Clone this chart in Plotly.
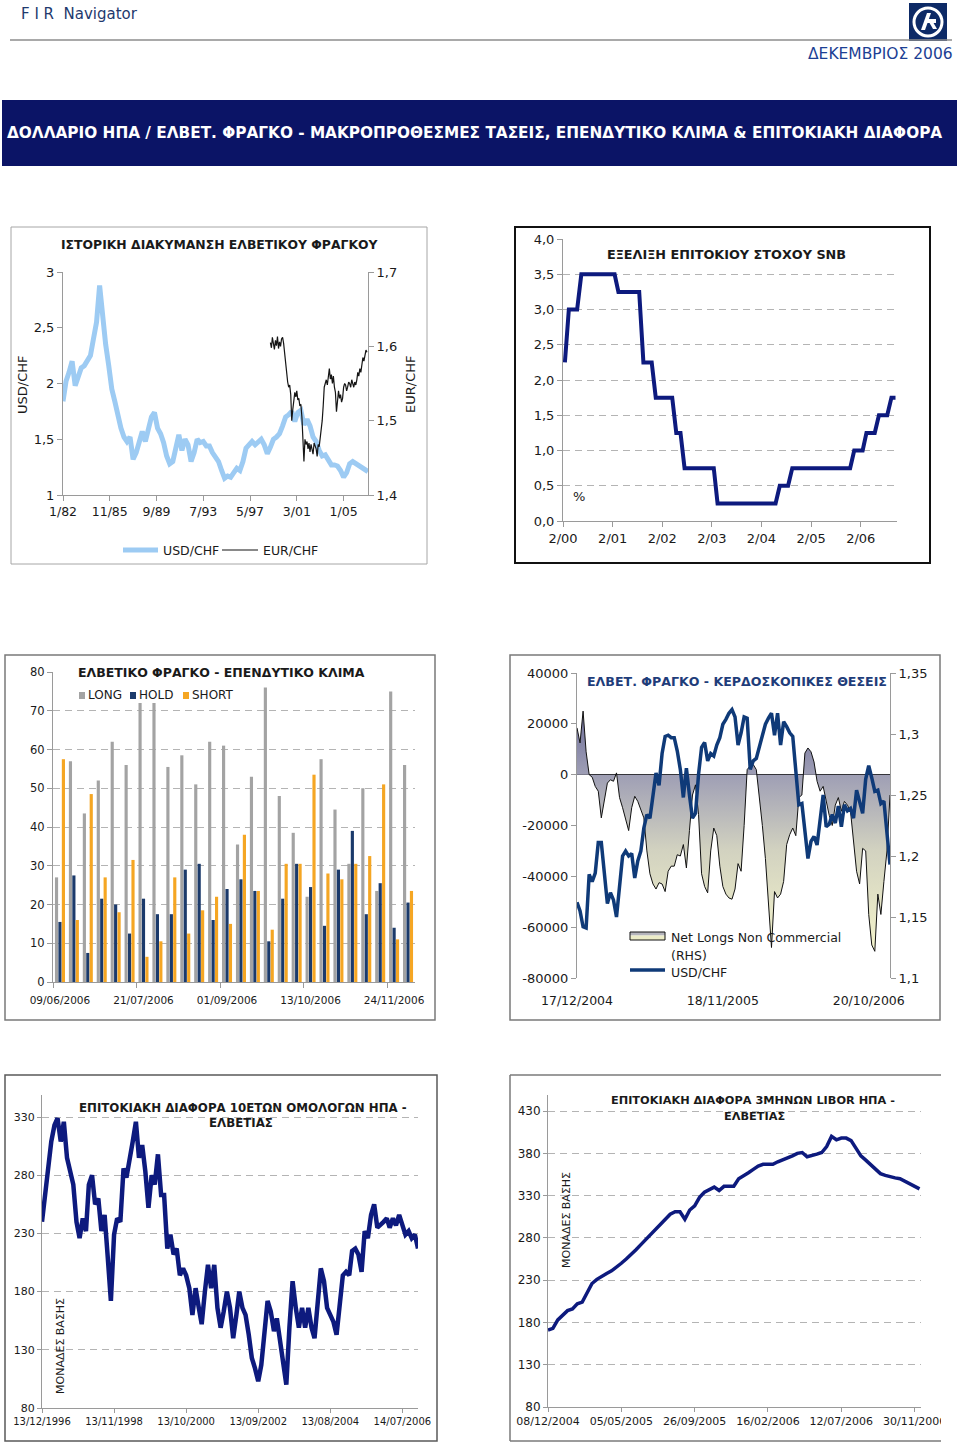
import plotly.graph_objects as go
import pandas as pd

W, H = 960, 1451


def fx(p):
    return p / W


def fy(p):
    return 1 - p / H


FONT = "DejaVu Sans"
TXT = "#1a1a1a"
AXC = "#9a9a9a"
GRID = "#b4b4b4"
NAVY = "#0d1a7e"

# ---------------- Panel 1: historical CHF ----------------
P1_START = "1982-01-01"
USDCHF_HIST = [1.84, 2.02, 2.10, 2.20, 1.98, 2.08, 2.14, 2.16, 2.20, 2.25,
               2.40, 2.55, 2.88, 2.60, 2.35, 2.16, 1.95, 1.84, 1.70, 1.60,
               1.52, 1.48, 1.52, 1.32, 1.38, 1.50, 1.57, 1.48, 1.58, 1.70,
               1.74, 1.60, 1.55, 1.47, 1.35, 1.28, 1.30, 1.45, 1.54, 1.40,
               1.50, 1.45, 1.30, 1.38, 1.50, 1.47, 1.48, 1.44, 1.44, 1.38,
               1.33, 1.30, 1.22, 1.15, 1.17, 1.16, 1.20, 1.24, 1.22, 1.30,
               1.42, 1.45, 1.48, 1.45, 1.47, 1.50, 1.45, 1.37, 1.43, 1.50,
               1.52, 1.55, 1.62, 1.70, 1.72, 1.75, 1.66, 1.74, 1.76, 1.63,
               1.68, 1.62, 1.52, 1.48, 1.40, 1.35, 1.36, 1.32, 1.27, 1.27,
               1.26, 1.22, 1.16, 1.20, 1.28, 1.30, 1.28, 1.26, 1.25, 1.22,
               1.21]
EUR_START = "1999-01-01"
EURCHF_HIST = [1.605, 1.598, 1.612, 1.600, 1.596, 1.608, 1.601, 1.613, 1.597, 1.606, 1.600, 1.610,
               1.612, 1.604, 1.590, 1.575, 1.560, 1.552, 1.545, 1.548, 1.535, 1.500, 1.515, 1.530,
               1.538, 1.532, 1.540, 1.528, 1.530, 1.520, 1.522, 1.505, 1.470, 1.445, 1.475, 1.468,
               1.472, 1.462, 1.470, 1.458, 1.468, 1.460, 1.455, 1.470, 1.465, 1.462, 1.452, 1.468,
               1.465, 1.475, 1.485, 1.500, 1.520, 1.545, 1.550, 1.555, 1.548, 1.560, 1.570, 1.556,
               1.562, 1.550, 1.560, 1.545, 1.538, 1.512, 1.525, 1.540, 1.530, 1.535, 1.525, 1.530,
               1.545, 1.550, 1.548, 1.540, 1.545, 1.552, 1.550, 1.545, 1.555, 1.550, 1.545, 1.552,
               1.548, 1.555, 1.565, 1.560, 1.570, 1.565, 1.575, 1.585, 1.580, 1.590, 1.595, 1.592]
P1_TICKVALS = ["1982-01-01", "1985-11-01", "1989-09-01", "1993-07-01", "1997-05-01", "2001-03-01", "2005-01-01"]
P1_TICKTEXT = ["1/82", "11/85", "9/89", "7/93", "5/97", "3/01", "1/05"]
P1_Y = [1, 1.5, 2, 2.5, 3]
P1_YTXT = ["1", "1,5", "2", "2,5", "3"]
P1_Y2 = [1.4, 1.5, 1.6, 1.7]
P1_Y2TXT = ["1,4", "1,5", "1,6", "1,7"]

# ---------------- Panel 2: SNB target ----------------
SNB_START = "2000-02-15"
SNB_RATE = [2.25, 3.0, 3.0, 3.0,
            3.5, 3.5, 3.5, 3.5, 3.5, 3.5, 3.5, 3.5, 3.5,
            3.25, 3.25, 3.25, 3.25, 3.25, 3.25,
            2.25, 2.25, 2.25,
            1.75, 1.75, 1.75, 1.75, 1.75,
            1.25, 1.25,
            0.75, 0.75, 0.75, 0.75, 0.75, 0.75, 0.75, 0.75,
            0.25, 0.25, 0.25, 0.25, 0.25, 0.25, 0.25, 0.25, 0.25, 0.25, 0.25, 0.25, 0.25, 0.25, 0.25,
            0.5, 0.5, 0.5,
            0.75, 0.75, 0.75, 0.75, 0.75, 0.75, 0.75, 0.75, 0.75, 0.75, 0.75, 0.75, 0.75, 0.75, 0.75,
            1.0, 1.0, 1.0,
            1.25, 1.25, 1.25,
            1.5, 1.5, 1.5,
            1.75, 1.75]
P2_TICKVALS = ["2000-02-01", "2001-02-01", "2002-02-01", "2003-02-01", "2004-02-01", "2005-02-01", "2006-02-01"]
P2_TICKTEXT = ["2/00", "2/01", "2/02", "2/03", "2/04", "2/05", "2/06"]
P2_Y = [0, 0.5, 1, 1.5, 2, 2.5, 3, 3.5, 4]
P2_YTXT = ["0,0", "0,5", "1,0", "1,5", "2,0", "2,5", "3,0", "3,5", "4,0"]

# ---------------- Panel 3: sentiment bars ----------------
SENT_START = "2006-06-09"
LONG = [27, 57, 43.5, 52, 62, 56, 72, 72, 55.5, 58.5, 51, 62, 61, 35.5, 53, 76, 48, 38.5, 22, 57.5, 44.5, 30.5, 50, 23.5, 75, 56]
HOLD = [15.5, 27.5, 7.5, 21.5, 20, 12.5, 21.5, 17.5, 17.5, 29, 30.5, 16, 24, 26.5, 23.5, 10.5, 21.5, 30.5, 24.5, 14.5, 29, 39, 17.5, 25.5, 14, 20.5]
SHORT = [57.5, 16, 48.5, 27, 18, 31.5, 6.5, 10.5, 27, 12.5, 18.5, 22, 15, 38, 23.5, 13.5, 30.5, 30.5, 53.5, 28, 26.5, 30.5, 32.5, 51, 11, 23.5]
P3_Y = [0, 10, 20, 30, 40, 50, 60, 70, 80]

# ---------------- Panel 4: speculative positions ----------------
POS_START = "2004-12-17"
NET_LONGS = [18400, 12500, 25000, 9000, 0, -1000, -4600, -6500, -17000, -10500,
             -3300, -2000, -2600, 700, -9000, -13000, -18000, -22000, -13000, -8500,
             -10500, -14000, -17000, -30000, -39000, -43000, -45000, -42500, -43000, -46000,
             -38000, -36000, -36000, -31500, -32000, -27500, -36700, -22000, -8000, -4000,
             -15700, -39000, -44000, -46500, -30000, -21000, -24000, -36000, -44000, -47000,
             -48500, -49000, -45000, -35000, -38000, -20000, 2000, 3500, 4000, 2000,
             -8000, -20000, -33000, -51000, -68000, -46000, -48500, -47000, -42000, -27500,
             -23600, -21000, -24000, -9000, -8000, 8500, 10500, 9000, 5000, -2600,
             -6500, -4600, -10000, -16000, -20000, -12000, -9000, -14400, -10500, -12000,
             -14400, -27500, -38000, -43000, -29000, -30000, -55000, -67000, -69500, -47000,
             -55000, -42000, -30000, -8000]
USDCHF_W = [1.162, 1.155, 1.142, 1.141, 1.185, 1.179, 1.186, 1.211, 1.211, 1.187,
            1.161, 1.170, 1.164, 1.150, 1.174, 1.200, 1.204, 1.200, 1.202, 1.182,
            1.196, 1.204, 1.223, 1.234, 1.231, 1.250, 1.268, 1.258, 1.284, 1.298,
            1.299, 1.297, 1.297, 1.286, 1.271, 1.248, 1.272, 1.250, 1.231, 1.235,
            1.267, 1.289, 1.293, 1.278, 1.284, 1.282, 1.291, 1.297, 1.308, 1.312,
            1.317, 1.320, 1.314, 1.291, 1.301, 1.314, 1.313, 1.271, 1.278, 1.280,
            1.289, 1.298, 1.308, 1.313, 1.317, 1.299, 1.317, 1.291, 1.310, 1.306,
            1.301, 1.298, 1.272, 1.242, 1.243, 1.217, 1.198, 1.212, 1.216, 1.209,
            1.231, 1.250, 1.224, 1.226, 1.234, 1.227, 1.241, 1.224, 1.242, 1.237,
            1.239, 1.231, 1.254, 1.245, 1.235, 1.263, 1.274, 1.264, 1.253, 1.254,
            1.243, 1.245, 1.220, 1.193]
P4_TICKVALS = ["2004-12-17", "2005-11-18", "2006-10-20"]
P4_TICKTEXT = ["17/12/2004", "18/11/2005", "20/10/2006"]
P4_Y = [-80000, -60000, -40000, -20000, 0, 20000, 40000]
P4_YTXT = ["-80000", "-60000", "-40000", "-20000", "0", "20000", "40000"]
P4_Y2 = [1.1, 1.15, 1.2, 1.25, 1.3, 1.35]
P4_Y2TXT = ["1,1", "1,15", "1,2", "1,25", "1,3", "1,35"]

# ---------------- Panel 5: 10y spread ----------------
SPREAD10_START = "1996-12-13"
SPREAD10 = [240, 263, 286, 309, 323, 329, 309, 326, 295, 283,
            272, 240, 226, 243, 232, 272, 280, 255, 260, 232,
            246, 209, 172, 229, 243, 240, 286, 278, 292, 309,
            326, 295, 306, 283, 252, 280, 272, 298, 263, 263,
            217, 229, 212, 217, 194, 200, 194, 183, 160, 183,
            166, 152, 180, 203, 183, 203, 166, 149, 163, 180,
            166, 140, 160, 180, 166, 160, 143, 123, 114, 103,
            117, 149, 172, 163, 146, 157, 137, 117, 100, 149,
            189, 166, 149, 166, 149, 166, 149, 140, 166, 200,
            189, 166, 160, 154, 143, 166, 194, 197, 194, 215,
            217, 212, 197, 232, 226, 246, 255, 235, 237, 240,
            243, 235, 243, 237, 246, 237, 229, 232, 226, 229,
            217]
P5_TICKVALS = ["1996-12-13", "1998-11-13", "2000-10-13", "2002-09-13", "2004-08-13", "2006-07-14"]
P5_TICKTEXT = ["13/12/1996", "13/11/1998", "13/10/2000", "13/09/2002", "13/08/2004", "14/07/2006"]
P5_Y = [80, 130, 180, 230, 280, 330]

# ---------------- Panel 6: 3m LIBOR spread ----------------
LIBOR_SPREAD = [171, 173, 183, 188, 194, 196, 202, 204, 214, 226,
                231, 235, 238, 241, 245, 250, 255, 260, 266, 272,
                278, 285, 290, 297, 303, 308, 311, 311, 302, 313,
                318, 328, 334, 337, 340, 336, 341, 341, 341, 350,
                353, 357, 361, 365, 367, 367, 367, 370, 372, 374,
                377, 380, 381, 376, 377, 379, 381, 388, 400, 396,
                398, 398, 395, 385, 377, 372, 367, 362, 356, 354,
                352, 351, 350, 347, 344, 341, 338]
P6_TICKPOS = [0, 15, 30, 45, 60, 75]
P6_TICKTEXT = ["08/12/2004", "05/05/2005", "26/09/2005", "16/02/2006", "12/07/2006", "30/11/2006"]
P6_Y = [80, 130, 180, 230, 280, 330, 380, 430]

# ---------------- derived x values ----------------
usd_dates = pd.date_range(P1_START, periods=len(USDCHF_HIST), freq="3MS")
eur_dates = pd.date_range(EUR_START, periods=len(EURCHF_HIST), freq="MS")
snb_dates = [pd.Timestamp(SNB_START) + pd.DateOffset(months=i) for i in range(len(SNB_RATE))]
sent_x = list(range(len(LONG)))
sent_dates = pd.date_range(SENT_START, periods=len(LONG), freq="7D")
sent_ticks = [i for i in sent_x if i % 6 == 0]
sent_ticktext = [sent_dates[i].strftime("%d/%m/%Y") for i in sent_ticks]
pos_dates = pd.date_range(POS_START, periods=len(NET_LONGS), freq="7D")
sp10_dates = [pd.Timestamp(SPREAD10_START) + pd.DateOffset(months=i) for i in range(len(SPREAD10))]
libor_x = list(range(len(LIBOR_SPREAD)))

fig = go.Figure()

# Panel 1
fig.add_trace(go.Scatter(x=usd_dates, y=USDCHF_HIST, mode="lines", line=dict(color="#9dcbf3", width=5),
                         xaxis="x", yaxis="y", showlegend=False, hoverinfo="skip"))
fig.add_trace(go.Scatter(x=eur_dates, y=EURCHF_HIST, mode="lines", line=dict(color="#151515", width=1.2),
                         xaxis="x", yaxis="y2", showlegend=False, hoverinfo="skip"))
# Panel 2
fig.add_trace(go.Scatter(x=snb_dates, y=SNB_RATE, mode="lines", line=dict(color=NAVY, width=4),
                         xaxis="x2", yaxis="y3", showlegend=False, hoverinfo="skip"))
# Panel 3
for name, vals, col in [("LONG", LONG, "#a3a3a3"), ("HOLD", HOLD, "#1b3a6b"), ("SHORT", SHORT, "#f5a623")]:
    fig.add_trace(go.Bar(x=sent_x, y=vals, name=name, marker=dict(color=col, line=dict(width=0)),
                         xaxis="x3", yaxis="y4", showlegend=False, hoverinfo="skip"))
# Panel 4
fig.add_trace(go.Scatter(x=pos_dates, y=NET_LONGS, mode="lines", fill="tozeroy",
                         line=dict(color="#111111", width=1),
                         fillgradient=dict(type="vertical", start=-72000, stop=22000,
                                           colorscale=[[0, "#f6f6cc"], [0.45, "#d2d2c0"], [0.78, "#9c9cb4"], [1, "#74749c"]]),
                         xaxis="x4", yaxis="y5", showlegend=False, hoverinfo="skip"))
fig.add_trace(go.Scatter(x=pos_dates, y=USDCHF_W, mode="lines", line=dict(color="#0f3a78", width=3.5),
                         xaxis="x4", yaxis="y6", showlegend=False, hoverinfo="skip"))
# Panel 5
fig.add_trace(go.Scatter(x=sp10_dates, y=SPREAD10, mode="lines", line=dict(color=NAVY, width=4.5),
                         xaxis="x5", yaxis="y7", showlegend=False, hoverinfo="skip"))
# Panel 6
fig.add_trace(go.Scatter(x=libor_x, y=LIBOR_SPREAD, mode="lines", line=dict(color=NAVY, width=3.5),
                         xaxis="x6", yaxis="y8", showlegend=False, hoverinfo="skip"))


def ax(**kw):
    d = dict(showgrid=False, zeroline=False, showline=True, linecolor=AXC, linewidth=1,
             ticks="outside", ticklen=5, tickcolor=AXC, tickwidth=1, automargin=False,
             tickfont=dict(family=FONT, size=12, color=TXT), fixedrange=True, tickmode="array")
    d.update(kw)
    return d


DASH = "7px,5px"
CLEAR = "rgba(0,0,0,0)"

layout = dict(
    width=W, height=H, autosize=False, margin=dict(l=0, r=0, t=0, b=0, pad=0, autoexpand=False),
    paper_bgcolor="white", plot_bgcolor="rgba(0,0,0,0)", showlegend=False,
    barmode="group", bargap=0.26, bargroupgap=0.08,
    # panel 1
    xaxis=ax(domain=[fx(63), fx(368)], anchor="y", type="date", range=["1982-01-01", "2007-01-01"],
             tickvals=P1_TICKVALS, ticktext=P1_TICKTEXT, tickfont=dict(family=FONT, size=12.5, color=TXT)),
    yaxis=ax(domain=[fy(495), fy(272)], anchor="x", range=[1, 3], tickvals=P1_Y, ticktext=P1_YTXT,
             tickfont=dict(family=FONT, size=13, color=TXT)),
    yaxis2=ax(overlaying="y", side="right", anchor="x", range=[1.4, 1.7], tickvals=P1_Y2, ticktext=P1_Y2TXT,
              tickfont=dict(family=FONT, size=13, color=TXT)),
    # panel 2
    xaxis2=ax(domain=[fx(563), fx(897)], anchor="y3", type="date", range=["2000-02-01", "2006-10-26"],
              tickvals=P2_TICKVALS, ticktext=P2_TICKTEXT, tickfont=dict(family=FONT, size=13, color=TXT)),
    yaxis3=ax(domain=[fy(521), fy(239)], anchor="x2", range=[0, 4], tickvals=P2_Y, ticktext=P2_YTXT,
              showgrid=True, gridcolor=GRID, griddash=DASH, gridwidth=1,
              tickfont=dict(family=FONT, size=13, color=TXT)),
    # panel 3
    xaxis3=ax(domain=[fx(53), fx(415)], anchor="y4", range=[-0.5, len(LONG) - 0.5],
              tickvals=sent_ticks, ticktext=sent_ticktext, ticks="outside", ticklen=8, tickcolor=CLEAR,
              minor=dict(tickmode="array", tickvals=[t - 0.5 for t in sent_ticks], ticks="outside",
                         ticklen=5, tickcolor=AXC),
              tickfont=dict(family=FONT, size=10.5, color=TXT)),
    yaxis4=ax(domain=[fy(982), fy(672)], anchor="x3", range=[0, 80], tickvals=P3_Y,
              ticktext=[str(v) for v in P3_Y], showgrid=True, gridcolor=GRID, griddash=DASH,
              tickfont=dict(family=FONT, size=11.5, color=TXT)),
    # panel 4
    xaxis4=ax(domain=[fx(577), fx(890)], anchor="y5", type="date",
              range=[pos_dates[0], pos_dates[-1]], tickvals=P4_TICKVALS, ticktext=P4_TICKTEXT,
              showline=False, ticks="outside", ticklen=11, tickcolor=CLEAR,
              tickfont=dict(family=FONT, size=12.5, color=TXT)),
    yaxis5=ax(domain=[fy(978), fy(673)], anchor="x4", range=[-80000, 40000], tickvals=P4_Y, ticktext=P4_YTXT,
              zeroline=True, zerolinecolor="#111111", zerolinewidth=1,
              tickfont=dict(family=FONT, size=13, color=TXT)),
    yaxis6=ax(overlaying="y5", side="right", anchor="x4", range=[1.1, 1.35], tickvals=P4_Y2, ticktext=P4_Y2TXT,
              tickfont=dict(family=FONT, size=13, color=TXT)),
    # panel 5
    xaxis5=ax(domain=[fx(42), fx(418)], anchor="y7", type="date", range=[sp10_dates[0], sp10_dates[-1]],
              tickvals=P5_TICKVALS, ticktext=P5_TICKTEXT, ticklen=4,
              tickfont=dict(family=FONT, size=10, color=TXT)),
    yaxis7=ax(domain=[fy(1408), fy(1095)], anchor="x5", range=[80, 349], tickvals=P5_Y,
              ticktext=[str(v) for v in P5_Y], showgrid=True, gridcolor=GRID, griddash=DASH,
              ticklen=4, tickfont=dict(family=FONT, size=11, color=TXT)),
    # panel 6
    xaxis6=ax(domain=[fx(548), fx(921)], anchor="y8", range=[0, 76.3], tickvals=P6_TICKPOS,
              ticktext=P6_TICKTEXT, ticklen=4, tickfont=dict(family=FONT, size=11, color=TXT)),
    yaxis8=ax(domain=[fy(1407), fy(1095)], anchor="x6", range=[80, 449], tickvals=P6_Y,
              ticktext=[str(v) for v in P6_Y], showgrid=True, gridcolor=GRID, griddash=DASH,
              ticklen=4, tickfont=dict(family=FONT, size=12, color=TXT)),
)
fig.update_layout(**layout)

shapes = []


def rect(x0, y0, x1, y1, line=None, fill=None, lw=1, layer="below"):
    shapes.append(dict(type="rect", xref="paper", yref="paper", x0=fx(x0), x1=fx(x1), y0=fy(y0), y1=fy(y1),
                       line=dict(color=line or CLEAR, width=lw if line else 0),
                       fillcolor=fill or CLEAR, layer=layer))


def hline(x0, x1, y, color, lw, layer="above"):
    shapes.append(dict(type="line", xref="paper", yref="paper", x0=fx(x0), x1=fx(x1), y0=fy(y), y1=fy(y),
                       line=dict(color=color, width=lw), layer=layer))


def vline(x, y0, y1, color, lw, layer="above"):
    shapes.append(dict(type="line", xref="paper", yref="paper", x0=fx(x), x1=fx(x), y0=fy(y0), y1=fy(y1),
                       line=dict(color=color, width=lw), layer=layer))


def poly(pts, color):
    path = "M " + " L ".join("{} {}".format(fx(a), fy(b)) for a, b in pts) + " Z"
    shapes.append(dict(type="path", xref="paper", yref="paper", path=path, fillcolor=color,
                       line=dict(width=0), layer="above"))


# header
hline(10, 952, 40, "#8c8c8c", 1.5)
rect(2, 100, 957, 166, fill="#0b1466")
rect(909, 3, 947, 41, fill="#0d2a66")
shapes.append(dict(type="circle", xref="paper", yref="paper", x0=fx(914), x1=fx(942), y0=fy(8), y1=fy(36),
                   line=dict(color="white", width=3), fillcolor="#0d2a66", layer="above"))
poly([(921, 30), (927, 13), (931, 13), (925, 30)], "white")
poly([(926, 19), (936, 19), (936, 23), (925, 23)], "white")
poly([(929, 22), (933, 22), (937, 29), (933, 29)], "white")

# panel frames
rect(11, 227, 427, 564, line="#a6a6a6", lw=1)
rect(515, 227, 930, 563, line="#111111", lw=2)
rect(5, 655, 435, 1020, line="#7a7a7a", lw=1.5)
rect(510, 655, 940, 1020, line="#7a7a7a", lw=1.5)
rect(5, 1075, 437, 1441, line="#5a5a5a", lw=1.5)
hline(510, 941, 1075, "#7a7a7a", 1.5)
hline(510, 941, 1441, "#7a7a7a", 1.5)
vline(510, 1075, 1441, "#7a7a7a", 1.5)

# panel 1 legend
hline(123, 158, 550, "#9dcbf3", 5)
hline(222, 258, 550, "#151515", 1.2)
# panel 3 legend keys
rect(79, 692, 85, 699, fill="#a3a3a3", layer="above")
rect(130, 692, 136, 699, fill="#1b3a6b", layer="above")
rect(183, 692, 189, 699, fill="#f5a623", layer="above")
# panel 4 legend keys
rect(630, 932, 665, 935.5, fill="#b4b4bc", layer="above")
rect(630, 935.5, 665, 940, fill="#ececc8", layer="above")
rect(630, 932, 665, 940, line="#111111", lw=1, layer="above")
hline(630, 665, 970, "#0f3a78", 3.5)
# crop of last label in panel 6
rect(941, 1412, 960, 1445, fill="white", layer="above")

fig.update_layout(shapes=shapes)

anns = []


def ann(x, y, text, size=12, color=TXT, xa="center", ya="middle", angle=0, family=FONT):
    anns.append(dict(x=fx(x), y=fy(y), xref="paper", yref="paper", text=text, showarrow=False,
                     xanchor=xa, yanchor=ya, textangle=angle,
                     font=dict(family=family, size=size, color=color)))


ann(19, 14, "F I R  Navigator", 15, "#1f3a6e", xa="left")
ann(955, 54, "ΔΕΚΕΜΒΡΙΟΣ 2006", 15.5, "#1c3f94", xa="right")
ann(5, 133, "<b>ΔΟΛΛΑΡΙΟ ΗΠΑ / ΕΛΒΕΤ. ΦΡΑΓΚΟ - ΜΑΚΡΟΠΡΟΘΕΣΜΕΣ ΤΑΣΕΙΣ, ΕΠΕΝΔΥΤΙΚΟ ΚΛΙΜΑ &amp; ΕΠΙΤΟΚΙΑΚΗ ΔΙΑΦΟΡΑ</b>",
    15.3, "white", xa="left")

# panel 1
ann(220, 244, "<b>ΙΣΤΟΡΙΚΗ ΔΙΑΚΥΜΑΝΣΗ ΕΛΒΕΤΙΚΟΥ ΦΡΑΓΚΟΥ</b>", 12.4)
ann(23, 385, "USD/CHF", 13, angle=-90)
ann(411, 385, "EUR/CHF", 13, angle=-90)
ann(161, 550, "USD/CHF", 12.5, xa="left")
ann(261, 550, "EUR/CHF", 12.5, xa="left")
# panel 2
ann(726, 254, "<b>ΕΞΕΛΙΞΗ ΕΠΙΤΟΚΙΟΥ ΣΤΟΧΟΥ SNB</b>", 12.8)
ann(579, 496, "%", 13)
# panel 3
ann(221, 672, "<b>ΕΛΒΕΤΙΚΟ ΦΡΑΓΚΟ - ΕΠΕΝΔΥΤΙΚΟ ΚΛΙΜΑ</b>", 12.5)
ann(86, 695, "LONG", 12, xa="left")
ann(137, 695, "HOLD", 12, xa="left")
ann(190, 695, "SHORT", 12, xa="left")
# panel 4
ann(737, 681, "<b>ΕΛΒΕΤ. ΦΡΑΓΚΟ - ΚΕΡΔΟΣΚΟΠΙΚΕΣ ΘΕΣΕΙΣ</b>", 12.6, "#1f3d7a")
ann(669, 937, "Net Longs Non Commercial", 12.5, xa="left")
ann(669, 955, "(RHS)", 12.5, xa="left")
ann(669, 972, "USD/CHF", 12.5, xa="left")
# panel 5
ann(243, 1108, "<b>ΕΠΙΤΟΚΙΑΚΗ ΔΙΑΦΟΡΑ 10ΕΤΩΝ ΟΜΟΛΟΓΩΝ ΗΠΑ -</b>", 11.8)
ann(241, 1123, "<b>ΕΛΒΕΤΙΑΣ</b>", 11.8)
ann(60, 1346, "ΜΟΝΑΔΕΣ ΒΑΣΗΣ", 11, angle=-90)
# panel 6
ann(753, 1100, "<b>ΕΠΙΤΟΚΙΑΚΗ ΔΙΑΦΟΡΑ 3ΜΗΝΩΝ LIBOR ΗΠΑ -</b>", 11.3)
ann(754, 1116, "<b>ΕΛΒΕΤΙΑΣ</b>", 11.3)
ann(566, 1220, "ΜΟΝΑΔΕΣ ΒΑΣΗΣ", 11, angle=-90)

fig.update_layout(annotations=anns)

fig.write_html("out.html", config={"displayModeBar": False, "staticPlot": True},
               post_script="document.body.style.margin='0';document.body.style.padding='0';")
